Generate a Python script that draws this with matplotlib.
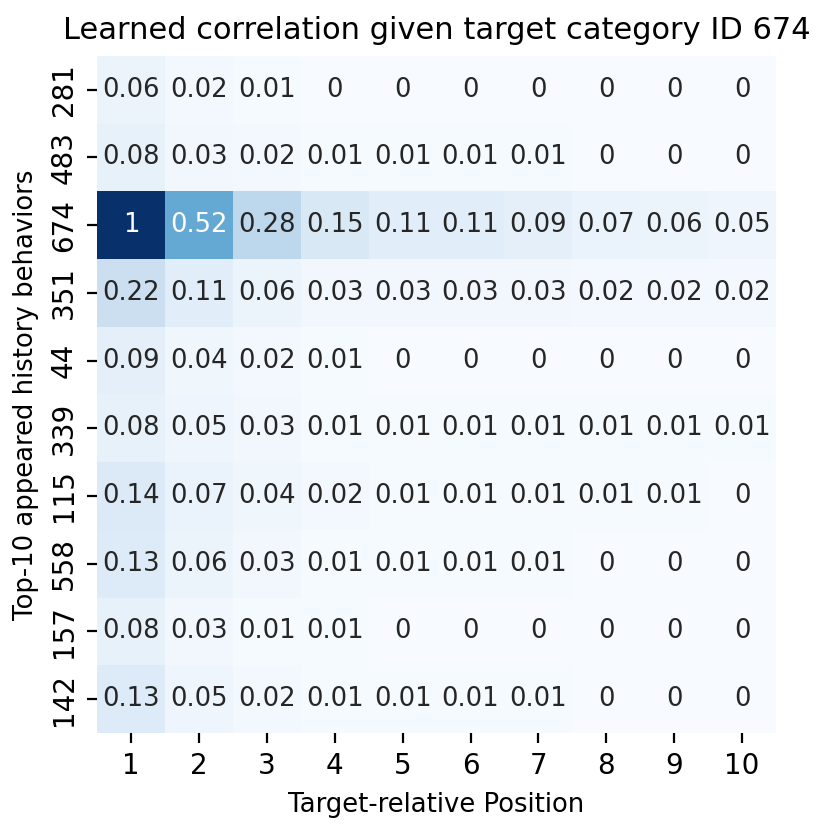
import numpy as np
import matplotlib
matplotlib.use("Agg")
import matplotlib.pyplot as plt
import seaborn as sns

# history behaviour category IDs (rows) and target-relative positions (columns)
behaviors = ["281", "483", "674", "351", "44", "339", "115", "558", "157", "142"]
positions = ["1", "2", "3", "4", "5", "6", "7", "8", "9", "10"]

row_281 = [0.06, 0.02, 0.01, 0, 0, 0, 0, 0, 0, 0]
row_483 = [0.08, 0.03, 0.02, 0.01, 0.01, 0.01, 0.01, 0, 0, 0]
row_674 = [1, 0.52, 0.28, 0.15, 0.11, 0.11, 0.09, 0.07, 0.06, 0.05]
row_351 = [0.22, 0.11, 0.06, 0.03, 0.03, 0.03, 0.03, 0.02, 0.02, 0.02]
row_44 = [0.09, 0.04, 0.02, 0.01, 0, 0, 0, 0, 0, 0]
row_339 = [0.08, 0.05, 0.03, 0.01, 0.01, 0.01, 0.01, 0.01, 0.01, 0.01]
row_115 = [0.14, 0.07, 0.04, 0.02, 0.01, 0.01, 0.01, 0.01, 0.01, 0]
row_558 = [0.13, 0.06, 0.03, 0.01, 0.01, 0.01, 0.01, 0, 0, 0]
row_157 = [0.08, 0.03, 0.01, 0.01, 0, 0, 0, 0, 0, 0]
row_142 = [0.13, 0.05, 0.02, 0.01, 0.01, 0.01, 0.01, 0, 0, 0]

corr = np.array([row_281, row_483, row_674, row_351, row_44,
                 row_339, row_115, row_558, row_157, row_142])

fig = plt.figure(figsize=(4.15, 4.165), dpi=200)
ax = fig.add_axes([0.117, 0.12, 0.818, 0.813])

sns.heatmap(corr, ax=ax, cmap="Blues", vmin=0, vmax=1, cbar=False,
            annot=True, fmt="g", annot_kws={"fontsize": 9.3},
            xticklabels=positions, yticklabels=behaviors)

ax.set_title("Learned correlation given target category ID 674", fontsize=11)
ax.set_xlabel("Target-relative Position", fontsize=9.3)
ax.set_ylabel("Top-10 appeared history behaviors", fontsize=9.3)
ax.tick_params(labelsize=10)
plt.setp(ax.get_yticklabels(), rotation=90, va="center")

fig.savefig("out.png", dpi=200)
